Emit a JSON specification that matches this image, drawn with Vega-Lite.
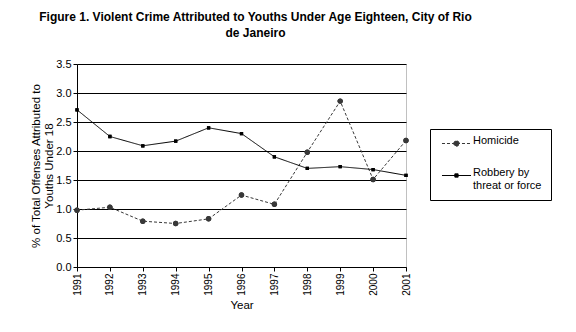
{
  "$schema": "https://vega.github.io/schema/vega-lite/v6.json",
  "width": 329,
  "height": 203,
  "autosize": {"type": "none"},
  "padding": {"left": 77, "top": 64, "right": 170, "bottom": 65},
  "background": "white",
  "config": {
    "font": "Liberation Sans",
    "view": {"stroke": "#c0c0c0", "strokeWidth": 1},
    "axis": {"labelFont": "Liberation Sans", "titleFont": "Liberation Sans", "labelColor": "black", "titleColor": "black", "domainColor": "black", "tickColor": "black", "labelFontSize": 11, "titleFontSize": 11.5, "titleFontWeight": "normal"}
  },
  "title": {
    "text": ["Figure 1. Violent Crime Attributed to Youths Under Age Eighteen, City of Rio", "de Janeiro"],
    "font": "Liberation Sans",
    "fontSize": 12,
    "fontWeight": "bold",
    "color": "black",
    "anchor": "middle",
    "frame": "group",
    "dx": 14,
    "offset": 18,
    "lineHeight": 16
  },
  "data": {
    "values": [
      {"year": 1991, "series": "Homicide", "value": 0.98},
      {"year": 1992, "series": "Homicide", "value": 1.03},
      {"year": 1993, "series": "Homicide", "value": 0.79},
      {"year": 1994, "series": "Homicide", "value": 0.75},
      {"year": 1995, "series": "Homicide", "value": 0.83},
      {"year": 1996, "series": "Homicide", "value": 1.24},
      {"year": 1997, "series": "Homicide", "value": 1.08},
      {"year": 1998, "series": "Homicide", "value": 1.98},
      {"year": 1999, "series": "Homicide", "value": 2.86},
      {"year": 2000, "series": "Homicide", "value": 1.51},
      {"year": 2001, "series": "Homicide", "value": 2.18},
      {"year": 1991, "series": "Robbery by threat or force", "value": 2.71},
      {"year": 1992, "series": "Robbery by threat or force", "value": 2.25},
      {"year": 1993, "series": "Robbery by threat or force", "value": 2.09},
      {"year": 1994, "series": "Robbery by threat or force", "value": 2.17},
      {"year": 1995, "series": "Robbery by threat or force", "value": 2.4},
      {"year": 1996, "series": "Robbery by threat or force", "value": 2.3},
      {"year": 1997, "series": "Robbery by threat or force", "value": 1.9},
      {"year": 1998, "series": "Robbery by threat or force", "value": 1.7},
      {"year": 1999, "series": "Robbery by threat or force", "value": 1.73},
      {"year": 2000, "series": "Robbery by threat or force", "value": 1.68},
      {"year": 2001, "series": "Robbery by threat or force", "value": 1.58}
    ]
  },
  "encoding": {
    "x": {
      "field": "year", "type": "quantitative",
      "scale": {"domain": [1991, 2001], "nice": false, "zero": false},
      "axis": {"values": [1991,1992,1993,1994,1995,1996,1997,1998,1999,2000,2001], "format": "d", "labelAngle": -90, "labelFontSize": 10, "grid": false, "title": "Year", "tickSize": 4, "labelPadding": 2, "titlePadding": 4}
    },
    "y": {
      "field": "value", "type": "quantitative",
      "scale": {"domain": [0, 3.5], "nice": false},
      "axis": {"values": [0, 0.5, 1, 1.5, 2, 2.5, 3, 3.5], "format": ".1f", "grid": true, "gridColor": "black", "gridOpacity": 1, "tickSize": 4, "labelPadding": 2, "title": ["% of Total Offenses Attributed to", "Youths Under 18"], "titlePadding": 1}
    },
    "color": {
      "field": "series", "type": "nominal",
      "scale": {"domain": ["Homicide", "Robbery by threat or force"], "range": ["#383838", "#000000"]},
      "legend": {
        "title": null, "orient": "none", "legendX": 353, "legendY": 65,
        "strokeColor": "black", "padding": 9, "fillColor": "white",
        "labelFont": "Liberation Sans", "labelFontSize": 11, "labelColor": "black",
        "symbolSize": 30, "symbolOffset": 12, "labelOffset": 11, "rowPadding": 17,
        "symbolStrokeWidth": 1,
        "labelExpr": "datum.label == 'Robbery by threat or force' ? ['Robbery by', 'threat or force'] : datum.label",
        "labelBaseline": "alphabetic",
        "encode": {"labels": {"dy": {"value": 4}}}
      }
    },
    "shape": {
      "field": "series", "type": "nominal",
      "scale": {"domain": ["Homicide", "Robbery by threat or force"], "range": ["M-5.3,0H5.3M-1,0A1,1,0,1,1,1,0A1,1,0,1,1,-1,0Z", "M-5.3,0H5.3M-0.6,-0.6H0.6V0.6H-0.6Z"]}
    },
    "strokeDash": {
      "field": "series", "type": "nominal",
      "scale": {"domain": ["Homicide", "Robbery by threat or force"], "range": [[3, 2], [1, 0]]}
    }
  },
  "layer": [
    {"mark": {"type": "line", "strokeWidth": 1}},
    {"mark": {"type": "point", "filled": true, "opacity": 1, "size": 30}}
  ]
}
